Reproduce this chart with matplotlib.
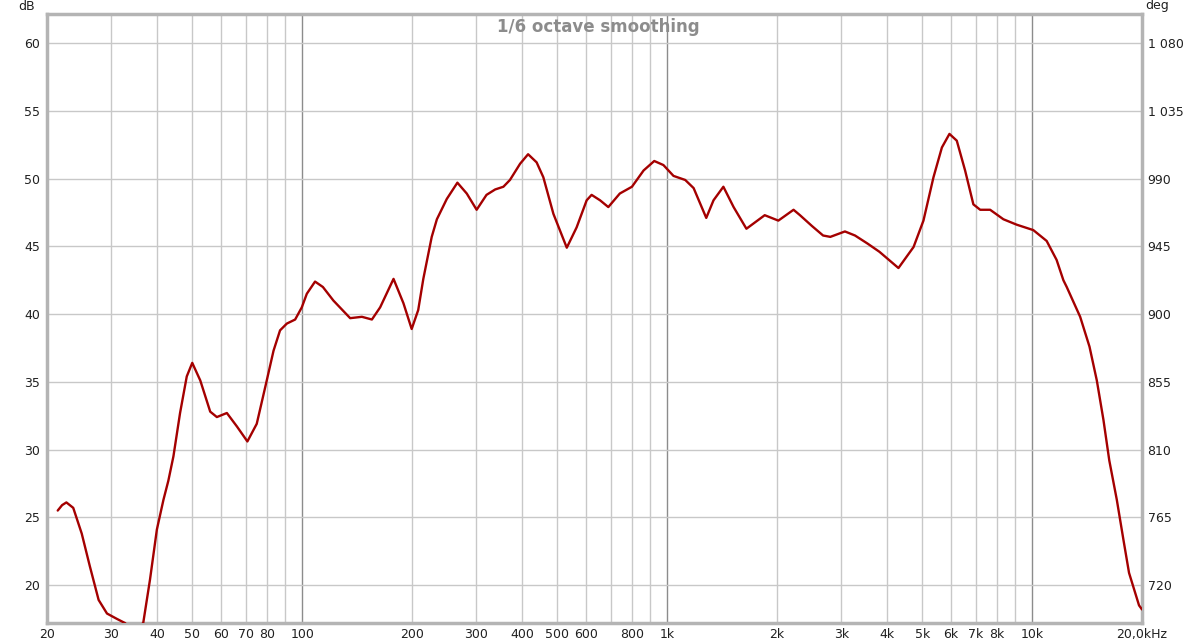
import matplotlib
matplotlib.use("Agg")
import matplotlib.pyplot as plt
import numpy as np

# frequency response (Hz, dB)
freq = [21.4, 22.0, 22.6, 23.6, 24.9, 26.2, 27.7, 29.2, 31.1, 32.7, 34.5,
        36.7, 38.3, 40.0, 41.7, 43.0, 44.4, 46.3, 48.3, 50.0, 52.6, 56.0, 58.4, 62.2,
        66.3, 70.8, 75.1, 80.0, 83.5, 87.0, 90.8, 95.7, 99.8, 103, 108.5, 114,
        121.8, 135.4, 145.8, 155.3, 163.6, 178, 189.5, 199.6, 208, 214.8, 226.5, 234, 249.1,
        266.3, 282.5, 300.7, 320, 338, 356, 371, 395.6, 416, 439, 458, 488, 531,
        565, 602, 621, 655, 690, 742, 801, 862, 922, 977, 1041, 1121, 1182,
        1280, 1340, 1426, 1521, 1649, 1851, 2017, 2220, 2312, 2494, 2675, 2800,
        3070, 3272, 3543, 3816, 4303, 4733, 5038, 5367, 5660, 5936, 6217,
        6552, 6903, 7206, 7674, 8342, 9071, 10075, 10960, 11670, 12180, 12440,
        13540, 14360, 15040, 15680, 16270, 17060, 17800, 18430, 19630, 20000]
spl = [25.5, 25.9, 26.1, 25.7, 23.8, 21.4, 18.9, 17.9, 17.5, 17.2, 16.6,
       17.2, 20.4, 24.1, 26.3, 27.7, 29.5, 32.7, 35.4, 36.4, 35.1, 32.8, 32.4, 32.7,
       31.7, 30.6, 31.9, 35.1, 37.3, 38.8, 39.3, 39.6, 40.5, 41.5, 42.4, 42.0,
       41.0, 39.7, 39.8, 39.6, 40.5, 42.6, 40.8, 38.9, 40.3, 42.6, 45.7, 47.0, 48.5,
       49.7, 48.9, 47.7, 48.8, 49.2, 49.4, 49.9, 51.1, 51.8, 51.2, 50.1, 47.4, 44.9,
       46.4, 48.4, 48.8, 48.4, 47.9, 48.9, 49.4, 50.6, 51.3, 51.0, 50.2, 49.9, 49.3,
       47.1, 48.4, 49.4, 47.9, 46.3, 47.3, 46.9, 47.7, 47.3, 46.5, 45.8, 45.7,
       46.1, 45.8, 45.2, 44.6, 43.4, 44.95, 46.9, 50.1, 52.3, 53.3, 52.8,
       50.6, 48.1, 47.7, 47.7, 47.0, 46.6, 46.2, 45.4, 44.0, 42.5, 42.0,
       39.8, 37.6, 35.1, 32.2, 29.2, 26.3, 23.3, 20.9, 18.5, 18.2]

xtick_vals = [20, 30, 40, 50, 60, 70, 80, 100, 200, 300, 400, 500, 600, 800,
              1000, 2000, 3000, 4000, 5000, 6000, 7000, 8000, 10000, 20000]
xtick_text = ["20", "30", "40", "50", "60", "70", "80", "100", "200", "300",
              "400", "500", "600", "800", "1k", "2k", "3k", "4k", "5k", "6k",
              "7k", "8k", "10k", "20,0kHz"]
db_ticks = [20, 25, 30, 35, 40, 45, 50, 55, 60]
deg_ticks = [720, 765, 810, 855, 900, 945, 990, 1035, 1080]
deg_text = ["720", "765", "810", "855", "900", "945", "990", "1 035", "1 080"]

fig = plt.figure(figsize=(12, 6.44), dpi=100)
ax = fig.add_axes([47/1200, 1-623/644, (1142-47)/1200, (623-14)/644])

ax.set_xscale("log")
ax.set_xlim(20, 20000)
ylo, yhi = 17.2, 62.15
ax.set_ylim(ylo, yhi)

# grid lines
minor = [f for d in (10, 100, 1000, 10000) for f in np.arange(2, 10) * d if 20 < f < 20000]
for f in minor:
    ax.axvline(f, color="#c8c8c8", lw=1, zorder=0)
for f in (100, 1000, 10000):
    ax.axvline(f, color="#8c8c8c", lw=1, zorder=0)
for v in db_ticks:
    ax.axhline(v, color="#c8c8c8", lw=1, zorder=0)

ax.plot(freq, spl, color="#a40000", lw=1.7, zorder=3,
        solid_capstyle="round", solid_joinstyle="round")

ax.set_xticks(xtick_vals)
ax.set_xticklabels(xtick_text)
ax.xaxis.set_minor_locator(matplotlib.ticker.NullLocator())
ax.set_yticks(db_ticks)
ax.tick_params(length=0, labelsize=9, colors="#202020", pad=5)
ax.tick_params(axis="x", pad=3.5)

for s in ax.spines.values():
    s.set_color("#b4b4b4")
    s.set_linewidth(2.5)

ax2 = ax.twinx()
ax2.set_ylim(720 + (ylo - 20) * 9, 720 + (yhi - 20) * 9)
ax2.set_yticks(deg_ticks)
ax2.set_yticklabels(deg_text)
ax2.tick_params(length=0, labelsize=9, colors="#202020", pad=4)
for s in ax2.spines.values():
    s.set_visible(False)

fig.text(35/1200, 1-6/644, "dB", ha="right", va="center", fontsize=9, color="#202020")
fig.text(1145/1200, 1-6/644, "deg", ha="left", va="center", fontsize=9, color="#202020")
fig.text(598/1200, 1-27/644, "1/6 octave smoothing", ha="center", va="center",
         fontsize=12, fontweight="bold", color="#8c8c8c")

fig.savefig("out.png", dpi=100)
